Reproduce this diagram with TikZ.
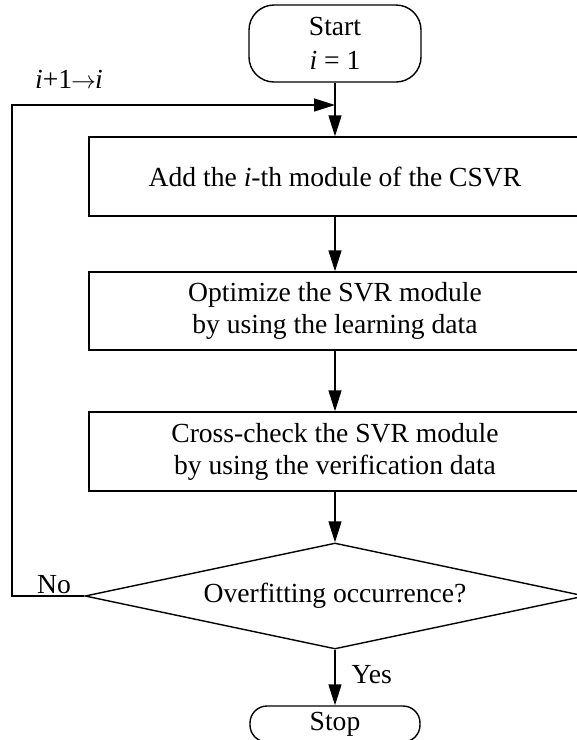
\documentclass[tikz,border=0pt]{standalone}
\usepackage{fontspec}
\setmainfont{Liberation Serif}
\usetikzlibrary{shapes.geometric,arrows.meta}
\begin{document}
\begin{tikzpicture}[x=1pt,y=-1pt,line width=1.4pt,
  txt/.style={font=\fontsize{27.6}{32}\selectfont},
  procbox/.style={draw,rectangle,minimum width=492pt,minimum height=79pt,inner sep=0pt,align=center,txt},
  termbox/.style={draw,rectangle,align=center,inner sep=0pt},
  decbox/.style={draw,diamond,aspect=4.7,minimum width=500pt,minimum height=106pt,inner sep=0pt,txt},
  arr/.style={-{Triangle[length=21pt,width=13pt]}}]
\useasboundingbox (0,0) rectangle (577,740);
\fill[white] (0,0) rectangle (577,740);
\clip (0,0) rectangle (577,740);
\node[termbox,rounded corners=25pt,minimum width=172pt,minimum height=77pt,font=\fontsize{27.6}{34}\selectfont] (start) at (335,43.5) {Start\\\textit{i} = 1};
\node[procbox] (b1) at (335,176.5) {Add the \textit{i}-th module of the CSVR};
\node[procbox,minimum height=78pt] (b2) at (335,311) {Optimize the SVR module\\by using the learning data};
\node[procbox] (b3) at (335,451.5) {Cross-check the SVR module\\by using the verification data};
\node[decbox] (d) at (335,596) {Overfitting occurrence?};
\node[termbox,rounded corners=17pt,minimum width=170pt,minimum height=36pt,txt] (stop) at (335,724) {Stop};
\draw[arr] (start) -- (b1);
\draw[arr] (b1) -- (b2);
\draw[arr] (b2) -- (b3);
\draw[arr] (b3) -- (d);
\draw[arr] (d) -- (stop);
\coordinate (ld) at (12,596);
\coordinate (lc) at (12,105);
\coordinate (lj) at (335,105);
\draw[arr] (d.west) -- (ld) -- (lc) -- (lj);
\node[txt,anchor=base,inner sep=0pt] (lbl) at (69,88) {\textit{i}+1\kern-1pt$\rightarrow$\kern-1pt\textit{i}};
\node[txt,anchor=base,inner sep=0pt] (no) at (54,593) {No};
\node[txt,anchor=base west,inner sep=0pt] (yes) at (351,683) {Yes};
\end{tikzpicture}
\end{document}
